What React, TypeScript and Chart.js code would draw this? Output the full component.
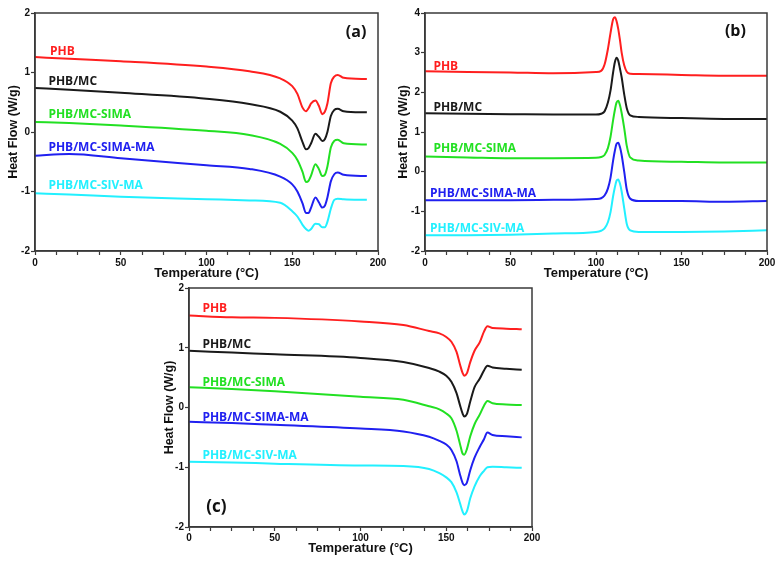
import React, { useEffect, useRef } from 'react';
import { Chart, registerables } from 'chart.js';

Chart.register(...registerables);

// ---------- shared ----------
const SERIES_NAMES = ['PHB', 'PHB/MC', 'PHB/MC-SIMA', 'PHB/MC-SIMA-MA', 'PHB/MC-SIV-MA'];
const SERIES_COLORS = ['#ff1f1f', '#1a1a1a', '#22e022', '#2020f0', '#22f0ff'];
const X_TITLE = 'Temperature (°C)';
const Y_TITLE = 'Heat Flow (W/g)';

// ---------- panel (a) ----------
const A_TEMPS = [0, 20, 50, 100, 125, 143, 150, 153, 156, 158, 159.5, 161, 163.5, 165.5, 167.5, 169, 170.5, 172.5, 174.5, 176.5, 180, 193.5];
const A_PHB = [1.26, 1.23, 1.19, 1.10, 1.02, 0.90, 0.77, 0.64, 0.41, 0.35, 0.40, 0.48, 0.53, 0.44, 0.30, 0.34, 0.48, 0.82, 0.93, 0.96, 0.91, 0.89];
const A_PHB_MC = [0.74, 0.71, 0.66, 0.56, 0.47, 0.34, 0.19, 0.06, -0.17, -0.29, -0.27, -0.19, -0.03, -0.08, -0.15, -0.12, 0.0, 0.27, 0.37, 0.39, 0.35, 0.33];
const A_PHB_MC_SIMA = [0.17, 0.15, 0.11, 0.02, -0.05, -0.20, -0.35, -0.47, -0.67, -0.84, -0.82, -0.73, -0.54, -0.62, -0.74, -0.72, -0.58, -0.26, -0.15, -0.13, -0.19, -0.21];
const A_PHB_MC_SIMA_MA = [-0.40, -0.37, -0.44, -0.56, -0.62, -0.75, -0.88, -1.00, -1.20, -1.36, -1.36, -1.27, -1.10, -1.18, -1.27, -1.24, -1.10, -0.83, -0.71, -0.68, -0.72, -0.74];
const A_PHB_MC_SIV_MA = [-1.03, -1.05, -1.09, -1.13, -1.15, -1.19, -1.33, -1.42, -1.56, -1.63, -1.66, -1.63, -1.54, -1.55, -1.60, -1.60, -1.51, -1.29, -1.14, -1.12, -1.13, -1.14];
const A_LABEL_T = [8.7, 7.8, 7.8, 7.8, 7.8];
const A_LABEL_V = [1.35, 0.85, 0.30, -0.26, -0.90];
const A_Y_TICKS = [-2, 2];

// ---------- panel (b) ----------
const B_TEMPS = [0, 25, 50, 75, 100, 103, 105, 107, 108.5, 110, 111, 112, 113, 114, 115, 116.5, 118, 120, 125, 150, 175, 200];
const B_PHB = [2.53, 2.51, 2.50, 2.48, 2.51, 2.54, 2.70, 3.10, 3.50, 3.84, 3.89, 3.80, 3.60, 3.32, 3.00, 2.68, 2.52, 2.47, 2.46, 2.44, 2.42, 2.42];
const B_PHB_MC = [1.47, 1.46, 1.45, 1.44, 1.44, 1.46, 1.52, 1.75, 2.05, 2.50, 2.75, 2.87, 2.80, 2.60, 2.38, 1.95, 1.60, 1.42, 1.38, 1.35, 1.33, 1.33];
const B_PHB_MC_SIMA = [0.38, 0.36, 0.34, 0.34, 0.35, 0.37, 0.42, 0.60, 0.88, 1.30, 1.55, 1.74, 1.79, 1.68, 1.48, 1.10, 0.65, 0.36, 0.28, 0.25, 0.23, 0.23];
const B_PHB_MC_SIMA_MA = [-0.72, -0.72, -0.72, -0.71, -0.69, -0.67, -0.60, -0.42, -0.15, 0.28, 0.52, 0.70, 0.73, 0.62, 0.42, 0.0, -0.45, -0.68, -0.74, -0.74, -0.76, -0.74];
const B_PHB_MC_SIV_MA = [-1.60, -1.60, -1.59, -1.56, -1.52, -1.49, -1.43, -1.27, -1.02, -0.62, -0.40, -0.23, -0.20, -0.30, -0.50, -0.92, -1.32, -1.48, -1.52, -1.52, -1.51, -1.48];
const B_LABEL_T = [4.9, 4.9, 4.9, 2.9, 2.9];
const B_LABEL_V = [2.65, 1.62, 0.59, -0.55, -1.43];
const B_Y_TICKS = [-2, 4];

// ---------- panel (c) ----------
const C_TEMPS = [0, 25, 50, 100, 125, 140, 146, 150, 153, 156, 158, 159.5, 160.5, 162, 164, 166.5, 169.5, 172, 174, 177, 185, 194];
const C_PHB = [1.54, 1.51, 1.50, 1.44, 1.38, 1.28, 1.24, 1.18, 1.10, 0.93, 0.72, 0.58, 0.53, 0.57, 0.76, 0.95, 1.09, 1.27, 1.36, 1.33, 1.32, 1.31];
const C_PHB_MC = [0.95, 0.92, 0.89, 0.83, 0.76, 0.66, 0.60, 0.53, 0.43, 0.24, 0.04, -0.10, -0.15, -0.11, 0.10, 0.34, 0.48, 0.62, 0.70, 0.67, 0.65, 0.63];
const C_PHB_MC_SIMA = [0.34, 0.31, 0.27, 0.18, 0.13, 0.02, -0.03, -0.10, -0.18, -0.39, -0.61, -0.77, -0.79, -0.70, -0.48, -0.28, -0.12, 0.03, 0.11, 0.07, 0.05, 0.04];
const C_PHB_MC_SIMA_MA = [-0.24, -0.26, -0.29, -0.35, -0.40, -0.49, -0.56, -0.62, -0.71, -0.90, -1.12, -1.26, -1.30, -1.26, -1.05, -0.84, -0.66, -0.53, -0.42, -0.46, -0.48, -0.50];
const C_PHB_MC_SIV_MA = [-0.91, -0.92, -0.94, -0.97, -0.98, -1.03, -1.10, -1.17, -1.25, -1.42, -1.60, -1.74, -1.79, -1.74, -1.52, -1.32, -1.15, -1.06, -1.00, -0.99, -1.00, -1.01];
const C_LABEL_T = [7.8, 7.8, 7.8, 7.8, 7.8];
const C_LABEL_V = [1.65, 1.05, 0.42, -0.17, -0.80];
const C_Y_TICKS = [-2, 2];

const X_RANGE = [0, 200];

const AXIS_COLOR = '#3a3a3a';
const TICK_FONT = { family: '"Liberation Sans", Arial, sans-serif', size: 10, weight: 'bold' };

type PanelProps = {
  left: number; top: number; w: number; h: number;
  padTop: number; padRight: number; yAxisW: number; xAxisH: number;
  xTickPad: number; xTitlePad: number; yTitlePad: number;
  yRange: number[]; temps: number[]; series: number[][];
  labelT: number[]; labelV: number[];
  tag: string; tagT: number; tagV: number; tagSize: number;
};

function Panel(p: PanelProps) {
  const ref = useRef<HTMLCanvasElement>(null);
  useEffect(() => {
    const framePlugin = {
      id: 'frame',
      afterDatasetsDraw(chart: any) {
        const { ctx, chartArea, scales } = chart;
        ctx.save();
        ctx.strokeStyle = AXIS_COLOR;
        ctx.lineWidth = 1.5;
        ctx.strokeRect(chartArea.left, chartArea.top, chartArea.right - chartArea.left, chartArea.bottom - chartArea.top);
        ctx.textBaseline = 'middle';
        ctx.textAlign = 'left';
        ctx.font = 'bold 12px "Open Sans", sans-serif';
        SERIES_NAMES.forEach((name, i) => {
          ctx.fillStyle = SERIES_COLORS[i];
          ctx.fillText(name, scales.x.getPixelForValue(p.labelT[i]), scales.y.getPixelForValue(p.labelV[i]));
        });
        ctx.fillStyle = '#111';
        ctx.textAlign = 'center';
        ctx.font = `bold ${p.tagSize}px "Open Sans", sans-serif`;
        ctx.fillText(p.tag, scales.x.getPixelForValue(p.tagT), scales.y.getPixelForValue(p.tagV));
        ctx.restore();
      },
    };
    const chart = new Chart(ref.current as HTMLCanvasElement, {
      type: 'line',
      data: {
        datasets: p.series.map((vals, i) => ({
          label: SERIES_NAMES[i],
          data: p.temps.map((t, j) => ({ x: t, y: vals[j] })),
          borderColor: SERIES_COLORS[i],
          backgroundColor: SERIES_COLORS[i],
          borderWidth: 2,
          pointRadius: 0,
          fill: false,
          cubicInterpolationMode: 'monotone',
        })),
      },
      options: {
        animation: false,
        responsive: false,
        devicePixelRatio: 1,
        layout: { padding: { left: 0, top: p.padTop, right: p.padRight, bottom: 0 } },
        plugins: { legend: { display: false }, tooltip: { enabled: false } },
        scales: {
          x: {
            type: 'linear',
            min: X_RANGE[0],
            max: X_RANGE[1],
            afterFit: (s: any) => { s.height = p.xAxisH; },
            ticks: {
              stepSize: 12.5,
              autoSkip: false,
              maxRotation: 0,
              padding: p.xTickPad,
              color: '#111',
              font: TICK_FONT,
              callback: (v: any) => (Number(v) % 50 === 0 ? String(v) : ''),
            },
            grid: { drawOnChartArea: false, tickLength: 4, tickColor: AXIS_COLOR, tickWidth: 1.2 },
            border: { color: AXIS_COLOR, width: 1.5 },
            title: {
              display: true,
              text: X_TITLE,
              color: '#111',
              font: { family: '"Liberation Sans", Arial, sans-serif', size: 13, weight: 'bold' },
              padding: { top: 0, bottom: p.xTitlePad },
            },
          },
          y: {
            type: 'linear',
            min: p.yRange[0],
            max: p.yRange[1],
            afterFit: (s: any) => { s.width = p.yAxisW; },
            ticks: { stepSize: 1, padding: 1, color: '#111', font: TICK_FONT },
            grid: { drawOnChartArea: false, tickLength: 4, tickColor: AXIS_COLOR, tickWidth: 1.2 },
            border: { color: AXIS_COLOR, width: 1.5 },
            title: {
              display: true,
              text: Y_TITLE,
              color: '#111',
              font: { family: '"Liberation Sans", Arial, sans-serif', size: 12.5, weight: 'bold' },
              padding: { top: p.yTitlePad, bottom: 0 },
            },
          },
        },
      },
      plugins: [framePlugin],
    } as any);
    return () => chart.destroy();
  }, []);
  return (
    <canvas
      ref={ref}
      width={p.w}
      height={p.h}
      style={{ position: 'absolute', left: p.left, top: p.top, width: p.w, height: p.h }}
    />
  );
}

export default function App() {
  return (
    <div style={{ position: 'fixed', left: 0, top: 0, width: 783, height: 562, background: '#fff', overflow: 'hidden' }}>
      <Panel
        left={0} top={0} w={390} h={285}
        padTop={13} padRight={12} yAxisW={35} xAxisH={34}
        xTickPad={2} xTitlePad={4} yTitlePad={6}
        yRange={A_Y_TICKS}
        temps={A_TEMPS}
        series={[A_PHB, A_PHB_MC, A_PHB_MC_SIMA, A_PHB_MC_SIMA_MA, A_PHB_MC_SIV_MA]}
        labelT={A_LABEL_T} labelV={A_LABEL_V}
        tag="(a)" tagT={187.2} tagV={1.68} tagSize={16}
      />
      <Panel
        left={390} top={0} w={393} h={285}
        padTop={13} padRight={16} yAxisW={35} xAxisH={34}
        xTickPad={2} xTitlePad={4} yTitlePad={6}
        yRange={B_Y_TICKS}
        temps={B_TEMPS}
        series={[B_PHB, B_PHB_MC, B_PHB_MC_SIMA, B_PHB_MC_SIMA_MA, B_PHB_MC_SIV_MA]}
        labelT={B_LABEL_T} labelV={B_LABEL_V}
        tag="(b)" tagT={181.5} tagV={3.54} tagSize={16}
      />
      <Panel
        left={156} top={275} w={390} h={287}
        padTop={13} padRight={14} yAxisW={33} xAxisH={35}
        xTickPad={1} xTitlePad={6} yTitlePad={6}
        yRange={C_Y_TICKS}
        temps={C_TEMPS}
        series={[C_PHB, C_PHB_MC, C_PHB_MC_SIMA, C_PHB_MC_SIMA_MA, C_PHB_MC_SIV_MA]}
        labelT={C_LABEL_T} labelV={C_LABEL_V}
        tag="(c)" tagT={16} tagV={-1.67} tagSize={17}
      />
    </div>
  );
}
